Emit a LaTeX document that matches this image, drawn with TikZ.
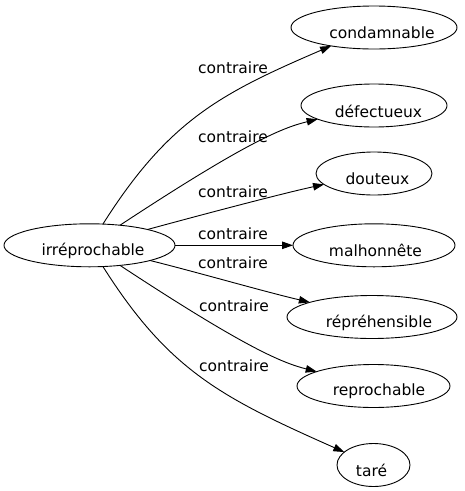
\documentclass[tikz,border=0pt]{standalone}
\usepackage{fontspec}
\setmainfont{DejaVu Sans}
\usetikzlibrary{shapes.geometric,arrows.meta}
\begin{document}
\begin{tikzpicture}[x=1pt,y=-1pt,
  every node/.style={font=\fontsize{15.5}{18}\selectfont},
  word/.style={draw, ellipse, inner sep=0pt, outer sep=0pt, minimum height=43pt, line width=0.9pt},
  wl/.style={anchor=base, inner sep=0pt, yshift=-5.5pt},
  rel/.style={anchor=base, inner sep=0pt},
  arr/.style={draw, line width=0.9pt, -{Triangle[length=11pt,width=7.5pt]}},
]
\useasboundingbox (0,0) rectangle (465,491);

\node[word, minimum width=171pt, label={[wl, xshift=3.5pt]center:irréprochable}] (irr) at (89.5,245.3) {};
\node[word, minimum width=166pt, label={[wl, xshift=8pt]center:condamnable}] (cond) at (374,27.5) {};
\node[word, minimum width=146pt, label={[wl, xshift=4.5pt]center:défectueux}] (def) at (374,105.5) {};
\node[word, minimum width=116pt, label={[wl, xshift=3.5pt]center:douteux}] (dout) at (374,173.5) {};
\node[word, minimum width=162pt, label={[wl, xshift=1.5pt]center:malhonnête}] (malh) at (374,245.3) {};
\node[word, minimum width=170pt, label={[wl, xshift=7pt]center:répréhensible}] (repr) at (372,317) {};
\node[word, minimum width=153pt, label={[wl, xshift=5.5pt]center:reprochable}] (repro) at (373.5,386) {};
\node[word, minimum width=73pt, label={[wl, xshift=-2pt]center:taré}] (tare) at (373.5,465) {};

\draw[arr] (irr) .. controls (168.6,120.3) and (220.8,93.3) .. (cond);
\draw[arr] (irr) .. controls (246,142.3) and (282.5,127.7) .. (def);
\draw[arr] (irr) .. controls (200,215.2) and (280,194) .. (dout);
\draw[arr] (irr) -- (malh);
\draw[arr] (irr) .. controls (200,273) and (262,291) .. (repr);
\draw[arr] (irr) .. controls (246,348.3) and (282.5,362.9) .. (repro);
\draw[arr] (irr) .. controls (168.6,370.3) and (220.8,397.3) .. (tare);

\node[rel] (l1) at (233,73) {contraire};
\node[rel] (l2) at (233,142.5) {contraire};
\node[rel] (l3) at (233,197.5) {contraire};
\node[rel] (l4) at (233,239.5) {contraire};
\node[rel] (l5) at (233,268) {contraire};
\node[rel] (l6) at (234,311.5) {contraire};
\node[rel] (l7) at (234,371.5) {contraire};
\end{tikzpicture}
\end{document}
